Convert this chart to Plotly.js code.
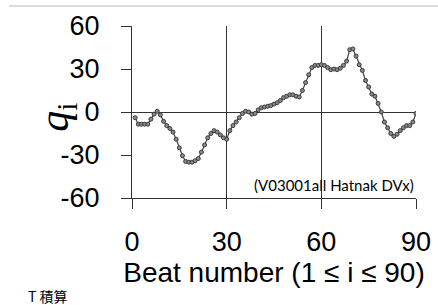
<!DOCTYPE html>
<html>
<head>
<meta charset="utf-8">
<script src="https://cdn.plot.ly/plotly-3.0.1.min.js"></script>
<style>html,body{margin:0;padding:0;background:#fff;}#chart{width:438px;height:305px;}</style>
</head>
<body>
<div id="chart"></div>
<script>
const beats = Array.from({length: 90}, (_, k) => k + 1);
const qValues = [
  -4, -8.5, -8.5, -8.5, -8.5, -5, -1.5, 0.5, -2, -6.5,
  -9.5, -11.5, -14, -19, -25, -30.5, -34.5, -35, -35, -34,
  -32.5, -28, -23, -18, -15, -13, -14, -16, -18, -19,
  -13, -9.5, -7, -4, -1, 0.5, 0, -1.5, -1, 1.5,
  3, 3.5, 4, 4.5, 5.5, 6.5, 8, 10, 11, 12,
  12, 11, 10.5, 15, 20.5, 26, 31, 32.5, 32.5, 33,
  32.5, 31, 29.5, 30, 29.5, 30.5, 32.5, 35.5, 43.5, 44,
  39, 33, 29, 22, 17.5, 12.5, 11, 6, 0, -7,
  -11, -15, -17, -15.5, -13, -11, -9.5, -9.5, -7, -1
];
const xTicks = [0, 30, 60, 90];
const yTicks = [-60, -30, 0, 30, 60];
const xTitle = 'Beat number (1 \u2264 i \u2264 90)';
const yTitle = '<i>q</i><sub>i</sub>';
const noteText = '(V03001all Hatnak DVx)';
const footerText = 'T 積算';

const trace = {
  x: beats, y: qValues, type: 'scatter', mode: 'lines+markers',
  line: {color: '#444', width: 1.2},
  marker: {size: 4, color: '#8a8a8a', line: {color: '#3a3a3a', width: 1}},
  hoverinfo: 'skip'
};

const layout = {
  width: 438, height: 305,
  margin: {l: 132, r: 22, t: 26, b: 107},
  paper_bgcolor: '#fff', plot_bgcolor: '#fff',
  showlegend: false,
  font: {family: 'Liberation Sans, Arial, sans-serif', color: '#000'},
  xaxis: {
    range: [0, 90], tickvals: xTicks, ticktext: xTicks.map(String),
    showgrid: true, gridcolor: '#333', gridwidth: 1,
    zeroline: false, showline: true, linecolor: '#333', linewidth: 1,
    ticks: 'outside', ticklen: 10, tickcolor: '#333', tickwidth: 1,
    ticklabelstandoff: 10,
    tickfont: {size: 27, color: '#000'},
    title: {text: xTitle, font: {size: 28, color: '#000'}, standoff: 2},
    fixedrange: true
  },
  yaxis: {
    range: [-60, 60], tickvals: yTicks, ticktext: yTicks.map(String),
    showgrid: false,
    zeroline: true, zerolinecolor: '#333', zerolinewidth: 1,
    showline: true, linecolor: '#333', linewidth: 1,
    ticks: 'outside', ticklen: 10, tickcolor: '#333', tickwidth: 1,
    ticklabelstandoff: 16,
    tickfont: {size: 27, color: '#000'},
    fixedrange: true
  },
  shapes: [
    {type: 'line', xref: 'paper', yref: 'paper', x0: -0.433, x1: 1.08, y0: 1.116, y1: 1.116,
     line: {color: '#cfcfcf', width: 1.5}}
  ],
  annotations: [
    {text: yTitle, xref: 'paper', yref: 'paper', x: -0.262, y: 0.47, xanchor: 'center', yanchor: 'middle',
     textangle: -90, showarrow: false,
     font: {size: 42, family: 'Liberation Serif, Times New Roman, serif', color: '#000'}},
    {text: noteText, xref: 'x', yref: 'y', x: 90, y: -60, xanchor: 'right', yanchor: 'bottom',
     showarrow: false, font: {family: 'Lato, Open Sans, sans-serif', size: 15, color: '#000'}, yshift: 2},
    {text: footerText, xref: 'paper', yref: 'paper', x: -0.373, y: -0.57, xanchor: 'left', yanchor: 'middle',
     showarrow: false, font: {family: 'Noto Sans CJK JP, sans-serif', size: 14, color: '#000'}}
  ]
};

Plotly.newPlot('chart', [trace], layout, {displayModeBar: false, staticPlot: true});
</script>
</body>
</html>
